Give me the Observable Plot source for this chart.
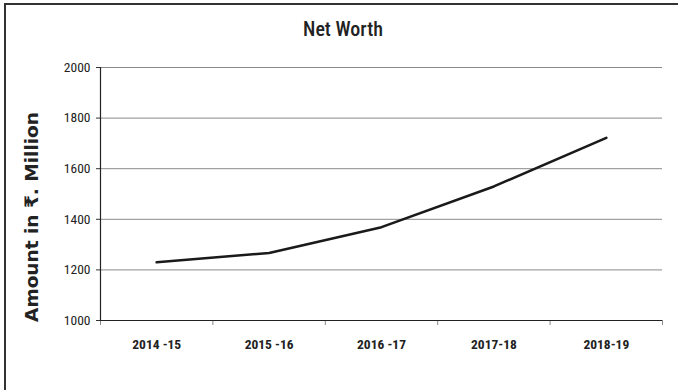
<!DOCTYPE html>
<html>
<head>
<meta charset="utf-8">
<script src="https://cdn.jsdelivr.net/npm/d3@7"></script>
<script src="https://cdn.jsdelivr.net/npm/@observablehq/plot@0.6"></script>
<style>
  html, body { margin: 0; padding: 0; background: #fff; }
  #wrap { position: relative; width: 678px; height: 390px; overflow: hidden; background:#fff; }
  #border { position: absolute; left: 4px; top: 3px; right: -10px; bottom: -10px; border-left: 2px solid #333; border-top: 2px solid #333; }
  #title { position: absolute; left: 0; width: 686px; top: 17px; text-align: center;
    font-family: Roboto, sans-serif; font-stretch: condensed; font-weight: 500; font-size: 20px; color: #222; }
  #chart { position: absolute; left: 0; top: 0; }
  #chart svg text { font-stretch: condensed; }
  #chart svg g[aria-label="text"] text { font-stretch: normal; font-family: 'DejaVu Sans', sans-serif; font-weight: bold; }
</style>
</head>
<body>
<div id="wrap">
  <div id="chart"></div>
  <div id="border"></div>
  <div id="title">Net Worth</div>
</div>
<script>
const categories = ["2014 -15", "2015 -16", "2016 -17", "2017-18", "2018-19"];
const netWorth = [1230, 1267, 1369, 1530, 1722];
const yTicks = [1000, 1200, 1400, 1600, 1800, 2000];
const yLabel = "Amount in ₹. Million";

const data = categories.map((c, i) => ({i, c, v: netWorth[i]}));
const n = categories.length;

const chart = Plot.plot({
  width: 678,
  height: 390,
  marginLeft: 100,
  marginRight: 16,
  marginTop: 67,
  marginBottom: 70,
  style: {fontFamily: "Roboto, sans-serif", background: "transparent"},
  x: {domain: [0, n]},
  y: {domain: [1000, 2000]},
  marks: [
    Plot.gridY(yTicks.slice(1), {stroke: "#8a8a8a", strokeOpacity: 1, strokeWidth: 1}),
    Plot.axisY(yTicks, {tickSize: 4, tickPadding: 6, fontSize: 13.5, stroke: "#333", fill: "#222", label: null, tickFormat: d => String(d)}),
    Plot.axisX(d3.range(n + 1), {tickSize: 5, tickFormat: () => "", stroke: "#888", label: null}),
    Plot.axisX(data.map(d => d.i + 0.5), {tickSize: 0, tickPadding: 19, fontSize: 13.5, fontWeight: "bold", fill: "#222",
      tickFormat: x => categories[Math.floor(x)], label: null}),
    Plot.ruleY([1000], {stroke: "#222", strokeWidth: 1.2}),
    Plot.ruleX([0], {stroke: "#222", strokeWidth: 1.2}),
    Plot.line(data, {x: d => d.i + 0.5, y: "v", stroke: "#1a1a1a", strokeWidth: 2.6}),
    Plot.text([yLabel], {frameAnchor: "left", dx: -68, dy: 23, rotate: -90, textAnchor: "middle",
      fontSize: 18.5, fontWeight: "bold", fill: "#222", fontFamily: "'DejaVu Sans', sans-serif"})
  ]
});
document.getElementById("chart").appendChild(chart);
</script>
</body>
</html>
